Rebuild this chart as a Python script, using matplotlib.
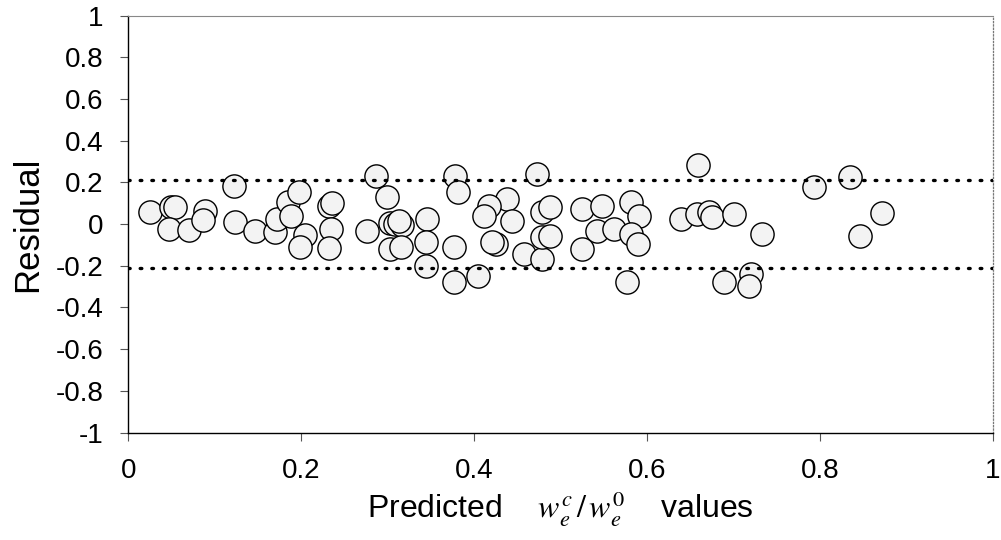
import matplotlib
matplotlib.use("Agg")
import matplotlib.pyplot as plt
from matplotlib.ticker import FuncFormatter

plt.rcParams["font.family"] = ["Liberation Sans", "DejaVu Sans"]
plt.rcParams["mathtext.fontset"] = "stix"
plt.rcParams["axes.unicode_minus"] = False

# predicted values and residuals
predicted = [
    0.025, 0.049, 0.054, 0.047, 0.070, 0.089, 0.087, 0.122, 0.124, 0.147,
    0.170, 0.172, 0.185, 0.198, 0.188, 0.205, 0.199, 0.232, 0.236, 0.234,
    0.232, 0.287, 0.299, 0.276, 0.303, 0.309, 0.317, 0.313, 0.346, 0.303,
    0.315, 0.344, 0.344, 0.378, 0.381, 0.377, 0.377, 0.473, 0.438, 0.417,
    0.411, 0.444, 0.425, 0.421, 0.458, 0.479, 0.479, 0.488, 0.479, 0.488,
    0.405, 0.525, 0.548, 0.542, 0.525, 0.562, 0.581, 0.591, 0.581, 0.589,
    0.577, 0.659, 0.639, 0.658, 0.672, 0.675, 0.700, 0.733, 0.689, 0.720,
    0.718, 0.793, 0.835, 0.872, 0.846,
]
residual = [
    0.060, 0.084, 0.084, -0.023, -0.028, 0.065, 0.020, 0.185, 0.009, -0.034,
    -0.039, 0.025, 0.105, 0.153, 0.037, -0.050, -0.110, 0.089, 0.100, -0.023,
    -0.116, 0.233, 0.129, -0.031, 0.005, 0.001, -0.004, 0.015, 0.025, -0.119,
    -0.111, -0.087, -0.199, 0.233, 0.153, -0.111, -0.279, 0.241, 0.121, 0.089,
    0.041, 0.017, -0.095, -0.087, -0.143, -0.167, 0.057, 0.081, -0.063, -0.055,
    -0.247, 0.073, 0.089, -0.034, -0.119, -0.023, 0.105, 0.041, -0.047, -0.095,
    -0.279, 0.285, 0.025, 0.049, 0.060, 0.033, 0.049, -0.047, -0.279, -0.239,
    -0.295, 0.177, 0.225, 0.052, -0.055,
]
limit = 0.21
x_ticks = [0, 0.2, 0.4, 0.6, 0.8, 1]
y_ticks = [-1, -0.8, -0.6, -0.4, -0.2, 0, 0.2, 0.4, 0.6, 0.8, 1]

fig = plt.figure(figsize=(10.01, 5.4), dpi=100)
ax = fig.add_axes([0.128, 0.199, 0.864, 0.772])

ax.scatter(predicted, residual, s=280, facecolor="#f3f3f3",
           edgecolor="black", linewidth=1.0, zorder=2)
for lv in (limit, -limit):
    ax.axhline(lv, color="black", linewidth=2.4,
               linestyle=(0, (0.5, 3.0)), dash_capstyle="round", zorder=3)

ax.set_xlim(0, 1)
ax.set_ylim(-1, 1)
ax.set_xticks(x_ticks)
ax.set_yticks(y_ticks)
fmt = FuncFormatter(lambda v, p: "%g" % round(v, 2))
ax.xaxis.set_major_formatter(fmt)
ax.yaxis.set_major_formatter(fmt)
ax.tick_params(axis="both", direction="out", length=6, width=0.8,
               color="#555555", labelsize=20)
ax.tick_params(axis="x", pad=12)
ax.tick_params(axis="y", pad=12)

ax.spines["left"].set_linewidth(1.0)
ax.spines["bottom"].set_linewidth(1.0)
ax.spines["top"].set_color("#888888")
ax.spines["top"].set_linewidth(0.8)
ax.spines["right"].set_color("#777777")
ax.spines["right"].set_linestyle(":")
ax.spines["right"].set_linewidth(0.9)

ax.set_ylabel("Residual", fontsize=25, labelpad=8)
ax.set_xlabel(r"Predicted    $w_e^c\,/\,w_e^0$    values", fontsize=23, labelpad=4)

fig.savefig("out.png", dpi=100)
